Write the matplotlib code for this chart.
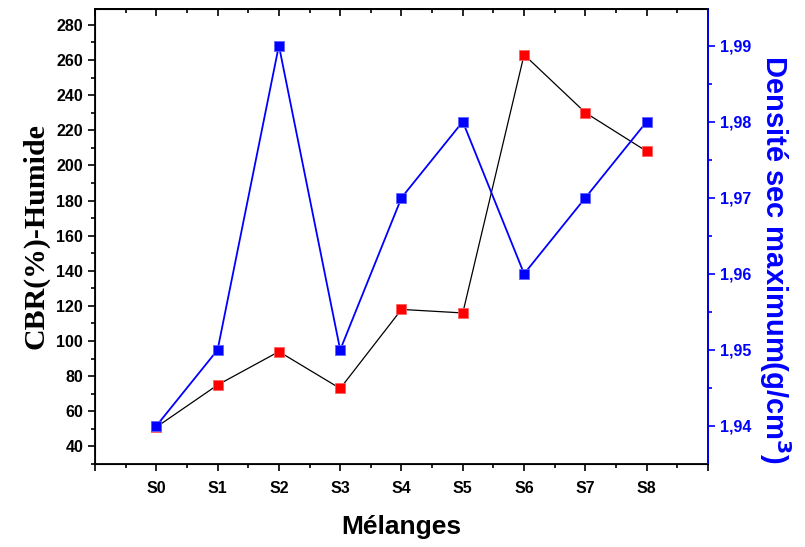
import matplotlib
matplotlib.use('Agg')
import matplotlib.pyplot as plt
from matplotlib.ticker import MultipleLocator, FixedLocator, FuncFormatter, NullFormatter

# mixes and measured values
melanges = ['S0', 'S1', 'S2', 'S3', 'S4', 'S5', 'S6', 'S7', 'S8']
cbr_humide = [51, 75, 94, 73, 118, 116, 263, 230, 208]
densite_sec = [1.94, 1.95, 1.99, 1.95, 1.97, 1.98, 1.96, 1.97, 1.98]

tick_font = {'family': 'Liberation Sans', 'weight': 'bold', 'size': 11.5}

fig = plt.figure(figsize=(8.05, 5.47), dpi=100)
ax = fig.add_axes([0.118, 0.1517, 0.7615, 0.8318])
ax2 = ax.twinx()

x = list(range(len(melanges)))

# CBR curve (left axis)
ax.plot(x, cbr_humide, color='black', lw=0.9, marker='s', ms=7,
        mfc='red', mec='#ff6060', mew=0.6, zorder=3)
ax.set_xlim(-1, 9)
ax.set_ylim(30, 289)
ax.set_yticks(range(40, 281, 20))
ax.yaxis.set_minor_locator(MultipleLocator(10))
ax.xaxis.set_major_locator(FixedLocator(range(-1, 10)))
ax.xaxis.set_minor_locator(FixedLocator([i + 0.5 for i in range(-1, 9)]))
ax.xaxis.set_major_formatter(FuncFormatter(
    lambda v, p: melanges[int(round(v))] if 0 <= round(v) < len(melanges) else ''))

ax.tick_params(axis='both', which='major', direction='out', length=5, width=1.2)
ax.tick_params(axis='both', which='minor', direction='out', length=3, width=1.2)
for lab in ax.get_xticklabels() + ax.get_yticklabels():
    lab.set_fontproperties(tick_font)
ax.tick_params(axis='x', pad=7)

# mirrored ticks on the top frame, pointing inward
top = ax.secondary_xaxis('top')
top.xaxis.set_major_locator(FixedLocator(range(-1, 10)))
top.xaxis.set_minor_locator(FixedLocator([i + 0.5 for i in range(-1, 9)]))
top.xaxis.set_major_formatter(NullFormatter())
top.tick_params(which='major', direction='in', length=5, width=1.2)
top.tick_params(which='minor', direction='in', length=3, width=1.2)
top.spines['top'].set_linewidth(1.3)

for s in ax.spines.values():
    s.set_linewidth(1.3)

ax.set_ylabel('CBR(%)-Humide', fontfamily='Liberation Serif', fontweight='bold',
              fontsize=21.5, labelpad=5)
ax.set_xlabel('Mélanges', fontfamily='Liberation Sans', fontweight='bold',
              fontsize=19, labelpad=14)

# density curve (right axis)
ax2.plot(x, densite_sec, color='blue', lw=1.3, marker='s', ms=7,
         mfc='blue', mec='#6060ff', mew=0.6, zorder=4)
ax2.set_ylim(1.935, 1.9948)
ax2.yaxis.set_major_locator(FixedLocator([1.94, 1.95, 1.96, 1.97, 1.98, 1.99]))
ax2.yaxis.set_minor_locator(FixedLocator([1.945, 1.955, 1.965, 1.975, 1.985]))
ax2.yaxis.set_major_formatter(FuncFormatter(lambda v, p: f'{v:.2f}'.replace('.', ',')))
ax2.tick_params(axis='y', which='major', direction='out', length=5, width=1.2,
                color='blue', labelcolor='blue')
ax2.tick_params(axis='y', which='minor', direction='out', length=3, width=1.2,
                color='blue')
for lab in ax2.get_yticklabels():
    lab.set_fontproperties(tick_font)
ax2.spines['right'].set_color('blue')
ax2.spines['right'].set_linewidth(1.3)
ax2.set_ylabel('Densité sec maximum(g/cm$^{\\mathbf{3}}$)', color='blue',
               fontfamily='Liberation Sans', fontweight='bold', fontsize=21,
               rotation=-90, va='center')
ax2.yaxis.set_label_coords(1.11, 0.45)

# bring the density curve above the CBR curve
ax2.set_zorder(ax.get_zorder() + 1)
ax2.patch.set_visible(False)

fig.savefig('out.png', dpi=100)
